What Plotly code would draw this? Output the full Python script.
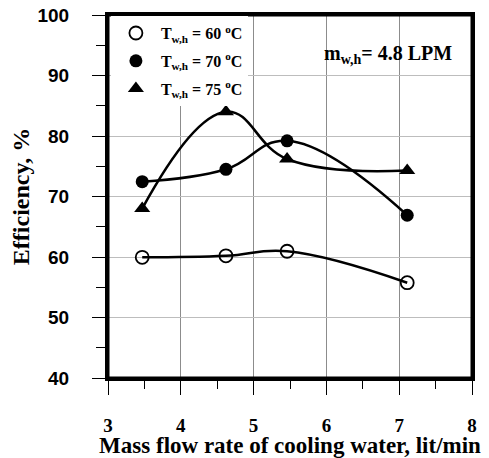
import plotly.graph_objects as go

# Data
flow_rate = [3.47, 4.62, 5.46, 7.11]          # lit/min
eff_60 = [59.95, 60.2, 60.95, 55.75]           # T_w,h = 60 °C
eff_70 = [72.45, 74.5, 79.2, 66.9]             # T_w,h = 70 °C
eff_75 = [68.0, 84.0, 76.2, 74.3]              # T_w,h = 75 °C
series_names = ["T<sub>w,h</sub> = 60 <sup>o</sup>C",
                "T<sub>w,h</sub> = 70 <sup>o</sup>C",
                "T<sub>w,h</sub> = 75 <sup>o</sup>C"]
x_ticks = [3, 4, 5, 6, 7, 8]
y_ticks = [40, 50, 60, 70, 80, 90, 100]

SERIF = "Liberation Serif, Times New Roman, serif"
SANS = "Liberation Sans, Arial, sans-serif"

fig = go.Figure()

styles = [
    dict(symbol="circle-open", size=13, color="black", line=dict(width=1.8, color="black")),
    dict(symbol="circle", size=13, color="black"),
    dict(symbol="triangle-up", size=14, color="black"),
]
for i, ys in enumerate([eff_60, eff_70, eff_75]):
    fig.add_trace(go.Scatter(
        x=flow_rate, y=ys, mode="lines", showlegend=False, hoverinfo="skip",
        line=dict(color="black", width=2.5, shape="spline", smoothing=1.2),
    ))
for i, (ys, name) in enumerate(zip([eff_60, eff_70, eff_75], series_names)):
    fig.add_trace(go.Scatter(
        x=flow_rate, y=ys, name=name, mode="markers",
        marker=styles[i], legendgroup=str(i),
    ))

fig.add_annotation(
    x=0.77, y=0.89, xref="paper", yref="paper", xanchor="center", yanchor="middle",
    text="<b>m<sub>w,h</sub>= 4.8 LPM</b>", showarrow=False,
    font=dict(family=SERIF, size=20, color="black"),
)

# plot frame
fig.add_shape(type="rect", xref="paper", yref="paper", x0=0, x1=1, y0=0, y1=1,
              line=dict(color="black", width=3), layer="above")

# the page body adds an 8px offset, so the figure is sized to fit the window
fig.update_layout(
    width=481, height=450,
    margin=dict(l=100, r=17, t=7, b=80),
    paper_bgcolor="white", plot_bgcolor="white",
    showlegend=True,
    legend=dict(x=0.008, y=0.997, xanchor="left", yanchor="top",
                bgcolor="white", borderwidth=0,
                font=dict(family=SERIF, size=16, color="black", weight="bold"),
                tracegroupgap=4, itemwidth=40),
)

fig.update_xaxes(
    range=[3, 8], tickvals=x_ticks, ticktext=[f"<b>{v}</b>" for v in x_ticks],
    automargin=False, ticklabeloverflow="allow",
    showline=True, linecolor="black", linewidth=3, mirror=True,
    ticks="outside", ticklen=14, tickwidth=1.2, tickcolor="black",
    showgrid=True, gridcolor="#8c8c8c", gridwidth=1,
    tickfont=dict(family=SERIF, size=19, color="black", weight="bold"),
    ticklabelstandoff=14,
    minor=dict(dtick=0.5, ticks="outside", ticklen=8, tickcolor="black", showgrid=False),
    title=dict(text="<b>Mass flow rate of cooling water, lit/min</b>",
               font=dict(family=SERIF, size=23, color="black"),
               standoff=3),
    zeroline=False,
)
fig.update_yaxes(
    range=[40, 100], tickvals=y_ticks, ticktext=[f"<b>{v}</b>" for v in y_ticks],
    automargin=False, ticklabeloverflow="allow",
    showline=True, linecolor="black", linewidth=3, mirror=True,
    ticks="outside", ticklen=13, tickwidth=1.2, tickcolor="black",
    showgrid=True, gridcolor="#bdbdbd", gridwidth=1,
    tickfont=dict(family=SANS, size=19, color="black", weight="bold"),
    ticklabelstandoff=19,
    minor=dict(dtick=5, ticks="outside", ticklen=9, tickcolor="black", showgrid=False),
    title=dict(text="<b>Efficiency, %</b>",
               font=dict(family=SERIF, size=24, color="black"),
               standoff=20),
    zeroline=False,
)

fig.write_html("out.html")
